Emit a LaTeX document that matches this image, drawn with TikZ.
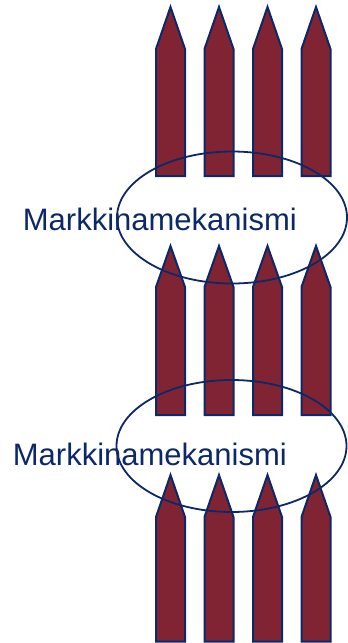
\documentclass[tikz,border=0pt]{standalone}
\usepackage{fontspec}
\setmainfont{Liberation Sans}
\usepackage{tikz}
\usetikzlibrary{positioning, shapes}

\definecolor{blu}{RGB}{12,40,104}
\definecolor{bordeaux}{RGB}{128,36,52}

\begin{document}
\begin{tikzpicture}[x=1pt,y=-1pt,
			paletto/.style={draw=blu, fill=bordeaux, line width=2pt, line join=miter},
			anello/.style={ellipse, draw=blu, line width=1.8pt, minimum width=230pt, minimum height=132pt, inner sep=0pt},
			etichetta/.style={text=blu, font=\fontsize{31}{37}\selectfont, anchor=base west, inner sep=0pt}
			]
			\useasboundingbox (0,0) rectangle (348,643);
			% Paletti: punta / spalla / base
			\foreach \p/\s/\b in {7/49/176, 246/287/415, 475/517/641.5}
			\foreach \x in {170.5,219,267.5,316}
			\draw[paletto] (\x,\p) -- (\x+14.5,\s) -- (\x+14.5,\b) -- (\x-14.5,\b) -- (\x-14.5,\s) -- cycle;
			% Primo mercato
			\node[anello] (M1) at (232,217.5) {};
			\node[etichetta] (T1) at (22.7,230) {Markkinamekanismi};
			% Secondo mercato
			\node[anello] (M2) at (231.5,446) {};
			\node[etichetta] (T2) at (12.7,465) {Markkinamekanismi};
		\end{tikzpicture}
\end{document}
